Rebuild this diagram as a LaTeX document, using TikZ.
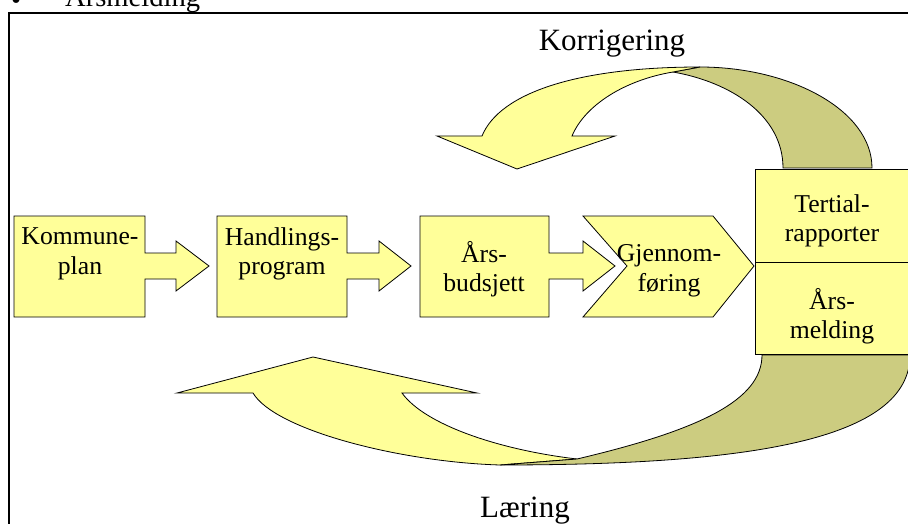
\documentclass[tikz,border=0pt]{standalone}
\usepackage{fontspec}
\setmainfont{Liberation Serif}
\usepackage{tikz}
\usetikzlibrary{positioning}

\definecolor{paleyellow}{RGB}{255,255,153}
\definecolor{khaki}{RGB}{204,204,128}
\newcommand{\bodyfont}{\fontsize{25.7}{29.5}\selectfont}
\newcommand{\loopfont}{\fontsize{31}{35}\selectfont}

\begin{document}
\begin{tikzpicture}[x=1pt,y=-1pt,
                    box/.style={fill=paleyellow,draw=black,line width=0.8pt},
                    back/.style={fill=khaki,draw=black,line width=0.8pt},
                    txt/.style={font=\bodyfont,align=center,inner sep=0pt},
                    loop label/.style={font=\loopfont,inner sep=0pt,anchor=base}]

    \useasboundingbox (0,0) rectangle (908,524);
    \clip (0,0) rectangle (908,524);

    % slide frame and the cut bullet line above it
    \node[font=\fontsize{28.6}{32}\selectfont,inner sep=0pt,anchor=base west] (bullet) at (11,10) {•};
    \node[font=\fontsize{28.6}{32}\selectfont,inner sep=0pt,anchor=base west] (topline) at (65,7) {Årsmelding};
    \draw[line width=2pt] (9,540) |- (920,13);

    % Korrigering loop: back side, then front with head
    \draw[back] (700,67) .. controls (790,67) and (872,110) .. (872,168)
                -- (783,168) .. controls (783,115) and (730,82) .. (673,72) -- cycle;
    \draw[box] (482,136) .. controls (500,92) and (580,67) .. (700,67) -- (673,72)
               .. controls (625,80) and (585,105) .. (572,136)
               -- (615,136) -- (517,169) -- (437,136) -- cycle;

    % Laering loop: back side, then front with head
    \draw[box] (253,393) .. controls (275,430) and (400,462) .. (500,465) -- (577,459)
               .. controls (500,450) and (425,425) .. (402,393)
               -- (477,393) -- (313,357) -- (177,393) -- cycle;
    \draw[back] (762,355) .. controls (762,400) and (700,430) .. (577,459) -- (500,465)
                .. controls (750,465) and (910,440) .. (910,355) -- cycle;

    % callout boxes
    \foreach \l/\r/\h/\t in {14/145/176/209, 217/347/379/411, 420/549/583/615}
        \draw[box] (\l,216) -- (\r,216) -- (\r,253) -- (\h,253) -- (\h,241) -- (\t,266)
                   -- (\h,291) -- (\h,279) -- (\r,279) -- (\r,317) -- (\l,317) -- cycle;
    % chevron
    \draw[box] (583,216) -- (713,216) -- (754,266) -- (713,317) -- (583,317) -- (627,266) -- cycle;
    % report boxes
    \draw[box] (755,169) rectangle (910,262);
    \draw[box] (755,262) rectangle (910,354);

    \node[txt] (kp) at (80,254) {Kommune-\\plan};
    \node[txt] (hp) at (282,254) {Handlings-\\program};
    \node[txt] (ab) at (484,269) {Års-\\budsjett};
    \node[txt] (gj) at (669,271) {Gjennom-\\føring};
    \node[txt] (tr) at (832,221) {Tertial-\\rapporter};
    \node[txt] (am) at (832,316) {Års-\\melding};

    \node[loop label] (korr) at (612,51) {Korrigering};
    \node[loop label] (laer) at (525,517) {Læring};
\end{tikzpicture}
\end{document}
